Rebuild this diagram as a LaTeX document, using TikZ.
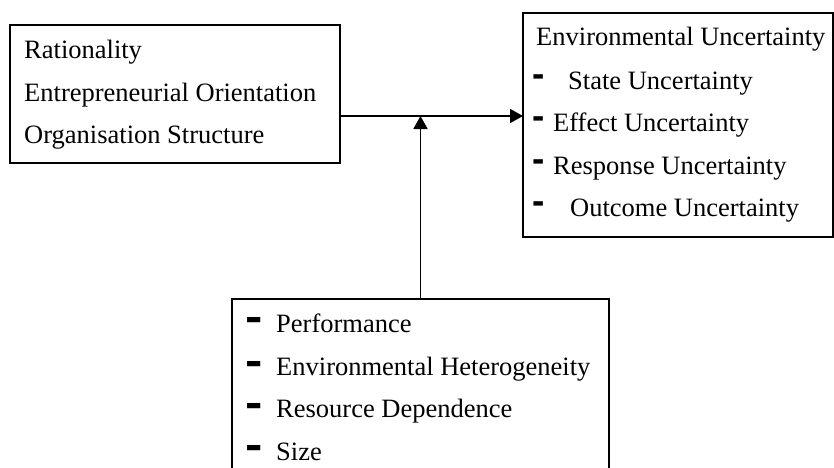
\documentclass[tikz,border=0pt]{standalone}
\usepackage{fontspec}
\setmainfont{Liberation Serif}
\newfontfamily\dashfont{Liberation Sans}
\usetikzlibrary{arrows.meta}
\begin{document}
\begin{tikzpicture}[x=1pt,y=-1pt,
  box/.style={draw, line width=2pt, inner sep=0pt, outer sep=0pt, anchor=north west},
  txt/.style={anchor=base west, inner sep=0pt, font=\fontsize{26.5}{30}\selectfont},
  dsh/.style={anchor=base, inner sep=0pt, font=\dashfont\bfseries\fontsize{37}{37}\selectfont},
  dshb/.style={anchor=base, inner sep=0pt, font=\dashfont\bfseries\fontsize{40}{40}\selectfont},
  arr/.style={line width=1.8pt, -{Triangle[length=13pt,width=14pt]}}]
\clip (0,0) rectangle (834,467);
\fill[white] (0,0) rectangle (834,467);
% boxes
\node[box, minimum width=330pt, minimum height=138pt] (lb) at (10,25) {};
\node[box, minimum width=310pt, minimum height=224pt] (rb) at (523,13) {};
\node[box, minimum width=377pt, minimum height=220pt] (bb) at (232,299) {};
% left box text
\node[txt] (l1) at (24,58) {Rationality};
\node[txt] (l2) at (24,101.5) {Entrepreneurial Orientation};
\node[txt] (l3) at (24,143.5) {Organisation Structure};
% right box text
\node[txt] (r0) at (536,45) {Environmental Uncertainty};
\node[dsh] (d1) at (538.5,86) {-};
\node[txt] (r1) at (568,89) {State Uncertainty};
\node[dsh] (d2) at (538.5,128) {-};
\node[txt] (r2) at (553,131) {Effect Uncertainty};
\node[dsh] (d3) at (538.5,171) {-};
\node[txt] (r3) at (553,174) {Response Uncertainty};
\node[dsh] (d4) at (538.5,213) {-};
\node[txt] (r4) at (570,216) {Outcome Uncertainty};
% bottom box text
\node[dshb] (e1) at (254.5,331) {\scalebox{1.3}[1.1]{-}};
\node[txt] (b1) at (276,332) {Performance};
\node[dshb] (e2) at (254.5,375) {\scalebox{1.3}[1.1]{-}};
\node[txt] (b2) at (276,375) {Environmental Heterogeneity};
\node[dshb] (e3) at (254.5,417) {\scalebox{1.3}[1.1]{-}};
\node[txt] (b3) at (276,417) {Resource Dependence};
\node[dshb] (e4) at (254.5,459) {\scalebox{1.3}[1.1]{-}};
\node[txt] (b4) at (276,460) {Size};
% connectors
\coordinate (hl) at (0,116);
\draw[arr] (lb.east |- hl) -- (rb.west |- hl);
\draw[arr] (bb.north) -- (bb.north |- hl);
\end{tikzpicture}
\end{document}
